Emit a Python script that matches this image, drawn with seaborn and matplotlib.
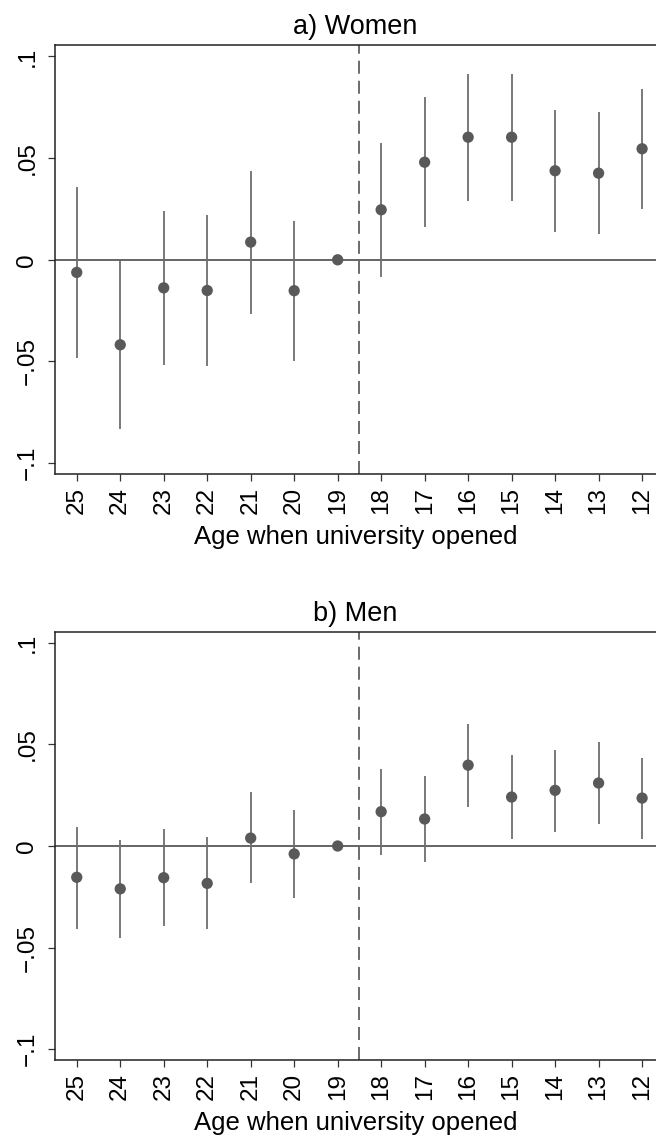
import pandas as pd
import numpy as np
import matplotlib
matplotlib.use("Agg")
import matplotlib.pyplot as plt
import seaborn as sns

# Age when university opened (x axis runs from 25 down to 12)
ages = [25, 24, 23, 22, 21, 20, 19, 18, 17, 16, 15, 14, 13, 12]

# a) Women: point estimates and 95% CI bounds
women_est = [-0.0062, -0.0418, -0.0138, -0.0151, 0.0087, -0.0152, 0.0,
             0.0246, 0.0480, 0.0603, 0.0603, 0.0438, 0.0426, 0.0546]
women_lo = [-0.0484, -0.0831, -0.0515, -0.0521, -0.0266, -0.0497, 0.0,
            -0.0084, 0.0159, 0.0290, 0.0290, 0.0138, 0.0126, 0.0252]
women_hi = [0.0357, 0.0, 0.0241, 0.0220, 0.0439, 0.0192, 0.0,
            0.0574, 0.0800, 0.0916, 0.0916, 0.0739, 0.0726, 0.0839]

# b) Men
men_est = [-0.0154, -0.0211, -0.0156, -0.0184, 0.0039, -0.0039, 0.0,
           0.0169, 0.0133, 0.0398, 0.0241, 0.0274, 0.0310, 0.0236]
men_lo = [-0.0407, -0.0454, -0.0395, -0.0410, -0.0184, -0.0256, 0.0,
          -0.0044, -0.0079, 0.0190, 0.0034, 0.0069, 0.0107, 0.0036]
men_hi = [0.0095, 0.0030, 0.0082, 0.0043, 0.0264, 0.0177, 0.0,
          0.0379, 0.0343, 0.0603, 0.0448, 0.0475, 0.0510, 0.0434]

panels = [("a) Women", women_est, women_lo, women_hi),
          ("b) Men", men_est, men_lo, men_hi)]

sns.set_style("white")
plt.rcParams['font.family'] = ['Liberation Sans', 'DejaVu Sans']
plt.rcParams['text.color'] = 'black'
plt.rcParams['axes.labelcolor'] = 'black'
plt.rcParams['xtick.color'] = 'black'
plt.rcParams['ytick.color'] = 'black'

fig = plt.figure(figsize=(6.56, 11.38), dpi=100)
axes = [fig.add_axes([55 / 656, 1 - 474.3 / 1138, 1 - 55 / 656, 429 / 1138]),
        fig.add_axes([55 / 656, 1 - 1060.3 / 1138, 1 - 55 / 656, 428.6 / 1138])]

line_col = "#6e6e6e"
dot_col = "#595959"

for ax, (title, est, lo, hi) in zip(axes, panels):
    df = pd.DataFrame({"age": ages, "est": est, "lo": lo, "hi": hi})

    ax.axhline(0, color="#3c3c3c", lw=1.1, zorder=1)
    ax.axvline(18.5, color="#444444", lw=1.1, ls=(0, (8.5, 4.6)), zorder=1)
    ax.vlines(df["age"], df["lo"], df["hi"], color=line_col, lw=1.3, zorder=2)
    sns.scatterplot(data=df, x="age", y="est", ax=ax, color=dot_col,
                    s=66, edgecolor="none", zorder=3, legend=False)

    ax.set_xlim(25.5, 11.68)
    ax.set_ylim(-0.1055, 0.1055)
    ax.set_xticks(ages)
    ax.set_xticklabels([str(a) for a in ages], rotation=90, fontsize=17.5)
    ax.set_yticks([-0.1, -0.05, 0, 0.05, 0.1])
    ax.set_yticklabels(["\u2212.1", "\u2212.05", "0", ".05", ".1"],
                       rotation=90, va="center", fontsize=17.5)
    ax.tick_params(axis="both", direction="out", length=5, width=0.9,
                   color="#333333", bottom=True, left=True)
    ax.tick_params(axis="x", pad=4)
    ax.tick_params(axis="y", pad=7)
    ax.set_xlabel("Age when university opened", fontsize=18.5, labelpad=8)
    ax.set_ylabel("")
    ax.set_title(title, fontsize=19.5, pad=8)

    for side in ["left", "bottom", "top"]:
        ax.spines[side].set_color("#222222")
        ax.spines[side].set_linewidth(1.1)
    ax.spines["right"].set_visible(False)

fig.savefig("out.png", dpi=100)
